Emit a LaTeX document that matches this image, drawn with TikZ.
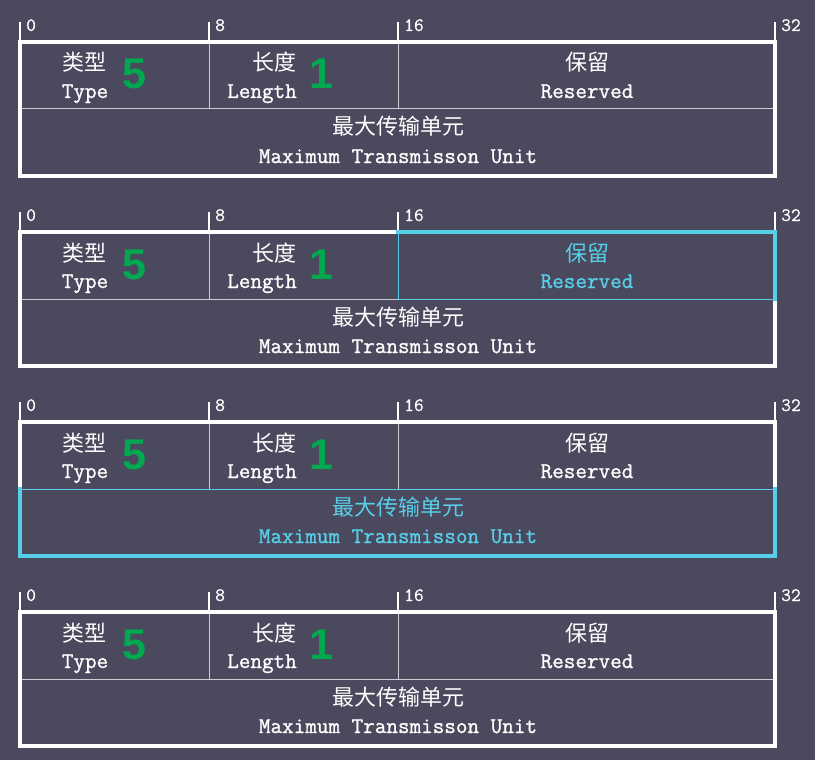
\documentclass[tikz,border=0pt]{standalone}
\usepackage{fontspec}
\newfontfamily\cjk{Noto Sans CJK SC}
\newfontfamily\numfont{Liberation Sans Bold}
\newfontfamily\enfont{Latin Modern Mono}[FakeBold=1.2]
\newfontfamily\tkfont{Latin Modern Mono}[FakeBold=0.5]
\definecolor{bgc}{RGB}{74,73,94}
\definecolor{hl}{RGB}{88,206,232}
\definecolor{grn}{RGB}{0,168,80}
\definecolor{divc}{RGB}{205,205,212}
\begin{document}
\begin{tikzpicture}[x=1pt,y=-1pt,
  frame/.style={draw=white,line width=4pt},
  hlthick/.style={draw=hl,line width=4pt},
  hlthin/.style={draw=hl,line width=1pt},
  divline/.style={draw=divc,line width=1pt},
  tickline/.style={draw=white,line width=1.6pt},
  ticklbl/.style={anchor=base west,inner sep=0pt,text=white,font=\fontsize{19}{22}\selectfont\tkfont},
  zh/.style={anchor=base,inner sep=0pt,font=\fontsize{22}{26}\selectfont\cjk},
  en/.style={anchor=base,inner sep=0pt,font=\fontsize{22.5}{26}\selectfont\enfont},
  big/.style={anchor=base,inner sep=0pt,text=grn,font=\fontsize{43}{46}\selectfont\numfont}]
\fill[bgc] (0,0) rectangle (815,760);
\useasboundingbox (0,0) rectangle (815,760);
\foreach \p in {0,1,2,3}{
  \ifnum\p=1 \def\rescol{hl}\else\def\rescol{white}\fi
  \ifnum\p=2 \def\mtucol{hl}\else\def\mtucol{white}\fi
  \begin{scope}[shift={(0,190*\p)}]
    % ticks
    \foreach \x/\l in {20/0,209/8,398/16,775/32}{
      \draw[tickline] (\x,22) -- (\x,42);
      \node[ticklbl] (lbl\p-\l) at (\x+6,31) {\l};
    }
    % inner dividers
    \draw[divline] (20,109) -- (775,109);
    \draw[divline] (209,42) -- (209,109);
    \draw[divline] (398,42) -- (398,109);
    % frame
    \draw[frame] (20,42) rectangle (775,176);
    \ifnum\p=1
      \draw[hlthin] (398,42) -- (398,109) -- (775,109);
      \draw[hlthick,line cap=rect] (398,42) -- (775,42) -- (775,109);
    \fi
    \ifnum\p=2
      \draw[hlthin] (20,109) -- (775,109);
      \draw[hlthick,line cap=rect,line join=miter] (20,109) -- (20,176) -- (775,176) -- (775,109);
    \fi
    % texts
    \node[zh,text=white] (type-zh\p) at (84,71) {类型};
    \node[en,text=white] (type-en\p) at (85,98) {Type};
    \node[big] (five\p) at (134,89) {5};
    \node[zh,text=white] (len-zh\p) at (274,71) {长度};
    \node[en,text=white] (len-en\p) at (262,98) {Length};
    \node[big] (one\p) at (321,89) {1};
    \node[zh,text=\rescol] (res-zh\p) at (587,71) {保留};
    \node[en,text=\rescol] (res-en\p) at (587,98) {Reserved};
    \node[zh,text=\mtucol] (mtu-zh\p) at (398,135) {最大传输单元};
    \node[en,text=\mtucol] (mtu-en\p) at (398,163) {Maximum Transmisson Unit};
  \end{scope}
}
\end{tikzpicture}
\end{document}
